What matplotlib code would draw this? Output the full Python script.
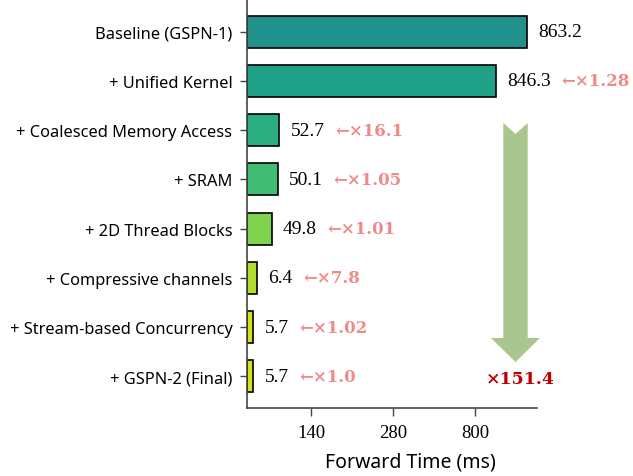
import matplotlib
matplotlib.use("Agg")
import matplotlib.pyplot as plt
from matplotlib.patches import Polygon

# ---- data ----
categories = ["Baseline (GSPN-1)", "+ Unified Kernel", "+ Coalesced Memory Access",
              "+ SRAM", "+ 2D Thread Blocks", "+ Compressive channels",
              "+ Stream-based Concurrency", "+ GSPN-2 (Final)"]
# bar lengths as drawn on the (non-linear) axis, in axis units
bar_lengths = [280.3, 249.0, 32.3, 30.7, 24.7, 10.3, 6.3, 6.3]
value_labels = ["863.2", "846.3", "52.7", "50.1", "49.8", "6.4", "5.7", "5.7"]
speedups = ["", "1.28", "16.1", "1.05", "1.01", "7.8", "1.02", "1.0"]
total_speedup = "151.4"
tick_pos = [64, 146, 228]
tick_labels = ["140", "280", "800"]

colors = ["#21918c", "#1fa187", "#2aae80", "#40bd72", "#7fd34e",
          "#b2dd2c", "#d5e21a", "#d5e21a"]

W, H = 633, 477
fig = plt.figure(figsize=(W / 100, H / 100), dpi=100)
ax = fig.add_axes([247 / W, 1 - 409 / H, 289.7 / W, 408 / H])

y = list(range(len(categories)))
ax.barh(y, bar_lengths, height=0.65, color=colors, edgecolor="black", linewidth=1.2)

ax.set_xlim(0, 289.7)
ax.set_ylim(len(categories) - 1 + 0.64, -0.64)

ax.set_yticks(y)
ax.set_yticklabels(categories, fontfamily="Noto Sans", fontsize=11.8)
ax.set_xticks(tick_pos)
ax.set_xticklabels(tick_labels, fontfamily="Liberation Serif", fontsize=13.5)
ax.tick_params(axis="y", length=5, width=1, pad=5.5, color="#444444")
ax.tick_params(axis="x", length=5.5, width=1, pad=6, color="#444444")

for s in ["top", "right"]:
    ax.spines[s].set_visible(False)
for s in ["left", "bottom"]:
    ax.spines[s].set_linewidth(1.2)
    ax.spines[s].set_color("#444444")

ax.set_xlabel("Forward Time (ms)", fontfamily="Noto Sans", fontsize=14, va="center")
ax.xaxis.set_label_coords(0.563, -0.132)

# value labels
vtexts = []
for yi, L, lab in zip(y, bar_lengths, value_labels):
    t = ax.annotate(lab, xy=(L, yi), xytext=(8, 0), textcoords="offset points",
                    va="center", ha="left", fontfamily="Liberation Serif",
                    fontsize=14, color="black")
    vtexts.append(t)

fig.canvas.draw()
renderer = fig.canvas.get_renderer()
for t, yi, sp in zip(vtexts, y, speedups):
    if not sp:
        continue
    bb = t.get_window_extent(renderer)
    x_end = bb.x1 + 11  # pixels
    xd, _ = ax.transData.inverted().transform((x_end, 0))
    ax.text(xd, yi, "\u2190\u00d7" + sp, va="center", ha="left",
            family=["DejaVu Serif"], fontweight="bold",
            fontsize=12, color="#ee8a87", clip_on=False)

# big down arrow (decorative)
pts_px = [(503.3, 124), (515.5, 135), (527.7, 124), (527.7, 339), (540, 339),
          (515.5, 363), (491, 339), (503.3, 339)]
pts = [(px / W, 1 - py / H) for px, py in pts_px]
fig.patches.append(Polygon(pts, closed=True, facecolor="#a9c68f", edgecolor="none",
                           transform=fig.transFigure, figure=fig))
fig.text(520 / W, 1 - 380 / H, "\u00d7" + total_speedup, ha="center", va="center",
         family=["DejaVu Serif"], fontweight="bold",
         fontsize=12.5, color="#c00000")

fig.savefig("out.png", dpi=100)
